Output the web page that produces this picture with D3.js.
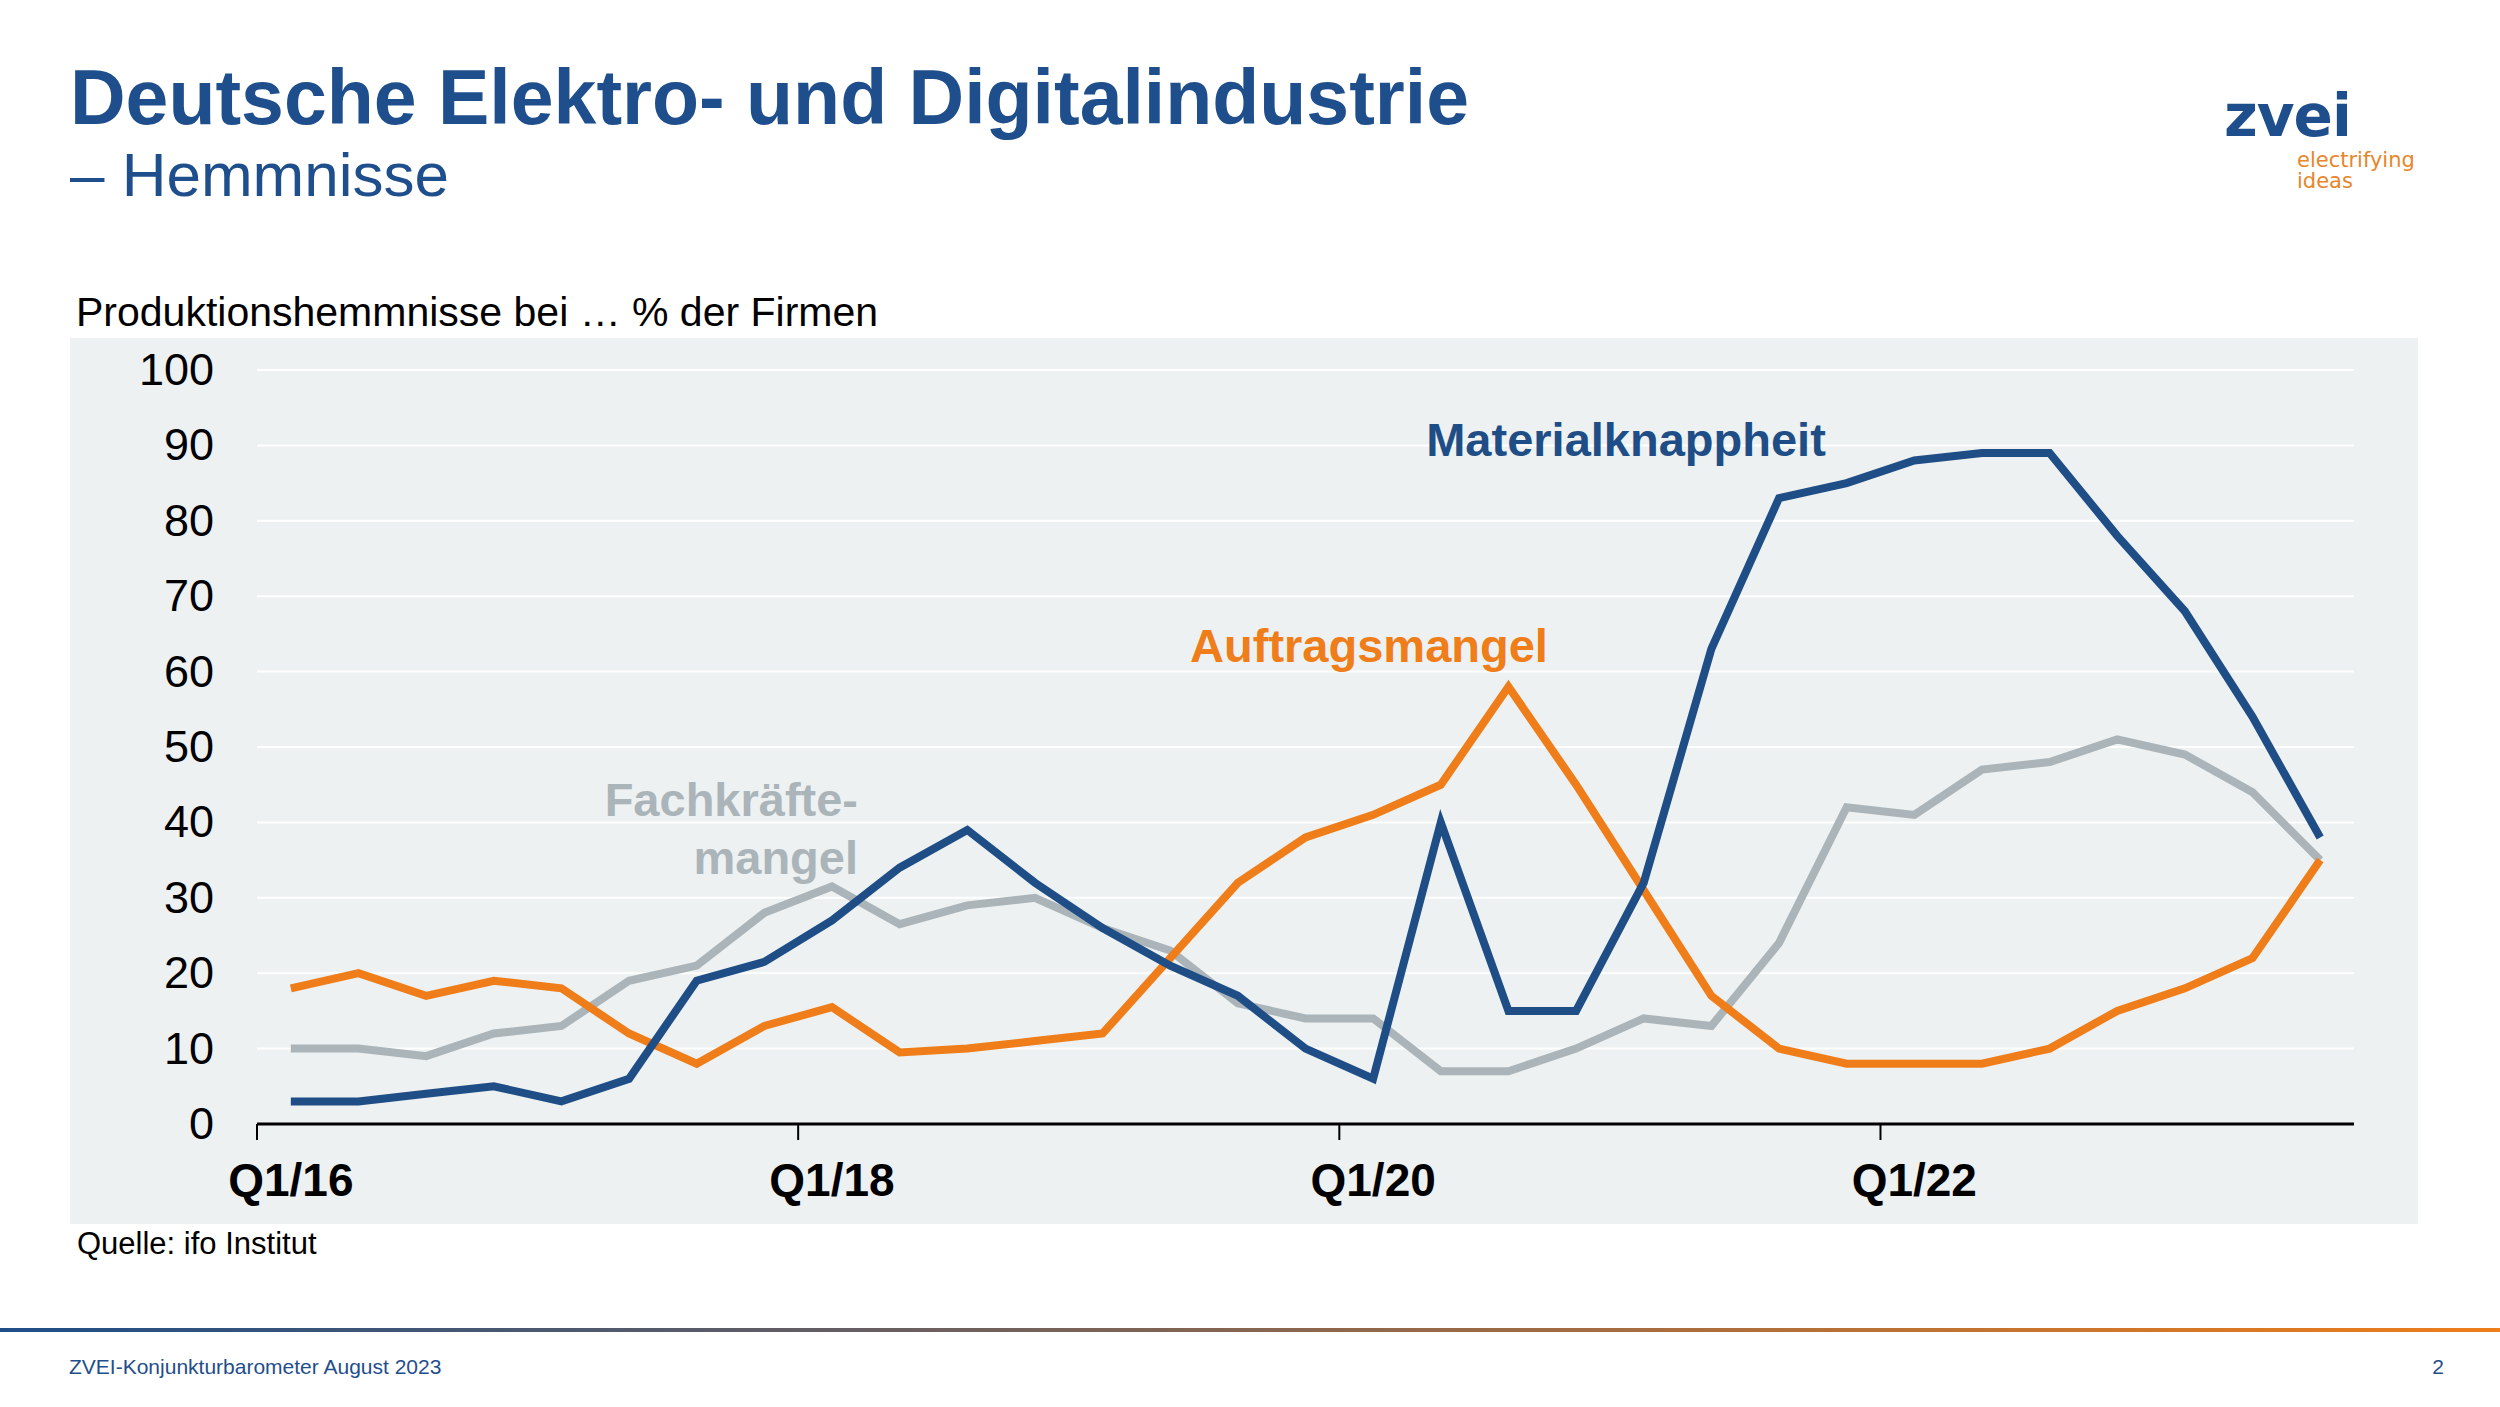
<!DOCTYPE html><html><head><meta charset="utf-8"><script src="https://cdn.jsdelivr.net/npm/d3@7"></script>
<style>body{margin:0;background:#fff}svg{font-family:"Liberation Sans",Arial,sans-serif}</style></head><body><svg id="c" width="2500" height="1407"></svg>
<script>
const quarters=["Q1/16","Q2/16","Q3/16","Q4/16","Q1/17","Q2/17","Q3/17","Q4/17","Q1/18","Q2/18","Q3/18","Q4/18","Q1/19","Q2/19","Q3/19","Q4/19","Q1/20","Q2/20","Q3/20","Q4/20","Q1/21","Q2/21","Q3/21","Q4/21","Q1/22","Q2/22","Q3/22","Q4/22","Q1/23","Q2/23","Q3/23"];
const material=[3,3,4,5,3,6,19,21.5,27,34,39,32,26,21,17,10,6,40,15,15,32,63,83,85,88,89,89,78,68,54,38];
const auftrag=[18,20,17,19,18,12,8,13,15.5,9.5,10,11,12,22,32,38,41,45,58,45,31,17,10,8,8,8,10,15,18,22,35];
const fachkraefte=[10,10,9,12,13,19,21,28,31.5,26.5,29,30,26,23,16,14,14,7,7,10,14,13,24,42,41,47,48,51,49,44,35];
const yTicks=[0,10,20,30,40,50,60,70,80,90,100];
const xLabels=["Q1/16","Q1/18","Q1/20","Q1/22"];
const svg=d3.select("#c");
const blue="#1f4e87",orange="#ee7d1a",grey="#aab4b9";
svg.append("text").attr("x",70).attr("y",124).attr("fill","#1f4e8c").attr("font-size",77).attr("font-weight","bold").text("Deutsche Elektro- und Digitalindustrie");
svg.append("text").attr("x",70).attr("y",196).attr("fill","#1f4e8c").attr("font-size",62).text("– Hemmnisse");
svg.append("text").attr("x",2224).attr("y",136).attr("fill","#1f4e8c").attr("font-size",58).attr("font-weight","bold").attr("font-family","DejaVu Sans").attr("letter-spacing",-1).text("zvei");
svg.append("text").attr("x",2297).attr("y",167).attr("fill","#e8862a").attr("font-size",21).attr("font-family","DejaVu Sans").text("electrifying");
svg.append("text").attr("x",2297).attr("y",188).attr("fill","#e8862a").attr("font-size",21).attr("font-family","DejaVu Sans").text("ideas");
svg.append("text").attr("x",76).attr("y",326).attr("font-size",41).attr("fill","#000").text("Produktionshemmnisse bei … % der Firmen");
svg.append("rect").attr("x",70).attr("y",338).attr("width",2348).attr("height",886).attr("fill","#edf1f1");
const x=d3.scaleBand().domain(quarters).range([257,2354]);
const y=d3.scaleLinear().domain([0,100]).range([1124,370]);
svg.append("g").selectAll("line").data(yTicks.slice(1)).join("line").attr("x1",257).attr("x2",2354).attr("y1",d=>y(d)).attr("y2",d=>y(d)).attr("stroke","#fff").attr("stroke-width",2);
svg.append("g").selectAll("text").data(yTicks).join("text").attr("x",214).attr("y",d=>y(d)+15).attr("text-anchor","end").attr("font-size",45).text(d=>d);
const ax=svg.append("g");
ax.append("line").attr("x1",257).attr("x2",2354).attr("y1",1124).attr("y2",1124).attr("stroke","#000").attr("stroke-width",3);
ax.selectAll("line.t").data(xLabels).join("line").attr("class","t").attr("x1",d=>x(d)).attr("x2",d=>x(d)).attr("y1",1124).attr("y2",1140).attr("stroke","#000").attr("stroke-width",2);
ax.selectAll("text").data(xLabels).join("text").attr("x",d=>x(d)+x.bandwidth()/2).attr("y",1196).attr("text-anchor","middle").attr("font-size",46).attr("font-weight","bold").text(d=>d);
const line=d3.line().x((d,i)=>x(quarters[i])+x.bandwidth()/2).y(d=>y(d));
[[fachkraefte,grey],[auftrag,orange],[material,blue]].forEach(([d,c])=>svg.append("path").attr("d",line(d)).attr("fill","none").attr("stroke",c).attr("stroke-width",8).attr("stroke-linejoin","miter"));
svg.append("text").attr("x",1626).attr("y",456).attr("text-anchor","middle").attr("font-size",47).attr("font-weight","bold").attr("fill",blue).text("Materialknappheit");
svg.append("text").attr("x",1369).attr("y",662).attr("text-anchor","middle").attr("font-size",47).attr("font-weight","bold").attr("fill",orange).text("Auftragsmangel");
svg.append("text").attr("x",858).attr("y",816).attr("text-anchor","end").attr("font-size",47).attr("font-weight","bold").attr("fill",grey).text("Fachkräfte-");
svg.append("text").attr("x",858).attr("y",874).attr("text-anchor","end").attr("font-size",47).attr("font-weight","bold").attr("fill",grey).text("mangel");
svg.append("text").attr("x",77).attr("y",1254).attr("font-size",31).text("Quelle: ifo Institut");
const g=svg.append("defs").append("linearGradient").attr("id","gr");
g.append("stop").attr("offset","0%").attr("stop-color","#1f4e87");g.append("stop").attr("offset","100%").attr("stop-color","#ee7d1a");
svg.append("rect").attr("x",0).attr("y",1328).attr("width",2500).attr("height",4).attr("fill","url(#gr)");
svg.append("text").attr("x",69).attr("y",1374).attr("font-size",21).attr("fill","#1f4e8c").text("ZVEI-Konjunkturbarometer August 2023");
svg.append("text").attr("x",2444).attr("y",1374).attr("text-anchor","end").attr("font-size",21).attr("fill","#1f4e8c").text("2");
</script></body></html>
